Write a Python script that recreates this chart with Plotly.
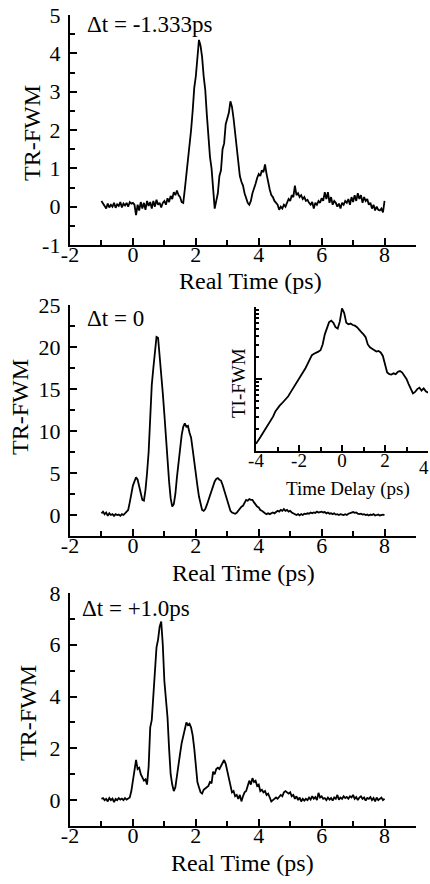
import numpy as np
import plotly.graph_objects as go

W, H = 430, 884
FONT = "Liberation Serif"

# ---- data -------------------------------------------------------------
# real-time samples: -1.0 ... 8.0 ps in 0.05 ps steps
t_real = np.round(np.arange(181) * 0.05 - 1.0, 2)

tr_fwm_neg = [
    0.15, 0.10, 0.02, -0.05, 0.08, -0.02, 0.05, 0.00, 0.10, -0.03, 0.06, 0.02, 0.12, -0.02, 0.08, 0.03, 0.10, 0.00, 0.12, 0.08,
    0.10, 0.05, -0.22, 0.05, -0.10, 0.12, -0.05, 0.10, -0.08, 0.15, 0.02, 0.12, -0.05, 0.15, 0.00, 0.18, 0.05, 0.10, -0.02, 0.10,
    0.15, 0.05, 0.22, 0.12, 0.28, 0.20, 0.38, 0.30, 0.42, 0.30, 0.25, 0.12, 0.10, 0.45, 0.80, 1.25, 1.50, 2.00, 2.50, 3.10,
    3.40, 4.00, 4.35, 4.20, 3.90, 3.40, 3.05, 2.40, 1.80, 1.30, 1.00, 0.50, -0.05, 0.15, 0.35, 0.80, 0.95, 1.50, 1.65, 2.15,
    2.30, 2.45, 2.75, 2.60, 2.30, 1.90, 1.50, 1.15, 0.80, 0.65, 0.55, 0.35, 0.20, 0.10, 0.05, 0.15, 0.35, 0.45, 0.60, 0.75,
    0.85, 0.80, 0.95, 0.90, 1.10, 0.85, 0.60, 0.45, 0.30, 0.25, 0.15, 0.10, 0.05, -0.08, 0.00, -0.05, 0.05, 0.00, 0.10, 0.20,
    0.15, 0.30, 0.25, 0.55, 0.30, 0.35, 0.25, 0.30, 0.20, 0.25, 0.15, 0.18, 0.10, 0.05, 0.12, -0.05, 0.10, 0.05, 0.15, 0.10,
    0.22, 0.15, 0.38, 0.20, 0.38, 0.10, 0.25, 0.05, 0.15, 0.10, 0.00, 0.08, -0.05, 0.10, 0.05, 0.15, 0.10, 0.20, 0.05, 0.25,
    0.12, 0.30, 0.15, 0.35, 0.20, 0.30, 0.10, 0.25, 0.15, 0.20, 0.05, 0.10, -0.05, 0.05, -0.10, 0.00, -0.08, -0.10, -0.05, -0.15,
    0.15,
]

tr_fwm_zero = [
    0.20, 0.40, 0.10, 0.30, -0.10, 0.20, 0.00, 0.10, -0.10, 0.10, 0.00, 0.05, -0.10, 0.10, 0.00, 0.20, 0.30, 0.60, 1.50, 2.60,
    3.50, 4.00, 4.50, 4.20, 3.30, 2.50, 1.80, 1.70, 3.00, 5.00, 7.50, 11.50, 15.50, 17.50, 19.00, 21.20, 21.10, 19.00, 17.50, 14.50,
    12.00, 9.00, 6.00, 4.00, 2.00, 1.00, 1.30, 2.50, 4.50, 6.20, 8.00, 9.50, 10.50, 10.90, 10.50, 10.60, 9.80, 9.20, 7.80, 6.20,
    4.90, 3.50, 2.20, 1.20, 0.60, 0.50, 0.70, 1.20, 1.80, 2.30, 2.80, 3.40, 4.00, 4.30, 4.40, 4.20, 4.10, 3.60, 3.00, 2.30,
    1.60, 1.00, 0.50, 0.30, 0.20, 0.15, 0.25, 0.50, 0.70, 1.00, 1.10, 1.50, 1.80, 1.70, 1.90, 1.80, 1.80, 1.50, 1.20, 1.00,
    0.90, 0.60, 0.50, 0.30, 0.20, 0.10, 0.20, 0.10, 0.20, 0.30, 0.20, 0.40, 0.50, 0.40, 0.60, 0.50, 0.70, 0.50, 0.60, 0.40,
    0.50, 0.30, 0.20, 0.10, 0.00, 0.10, -0.05, 0.10, 0.00, 0.15, 0.10, 0.20, 0.15, 0.30, 0.20, 0.30, 0.25, 0.40, 0.30, 0.35,
    0.40, 0.30, 0.35, 0.20, 0.30, 0.15, 0.20, 0.10, 0.20, 0.05, 0.10, 0.00, 0.10, 0.05, 0.00, 0.10, 0.00, 0.15, 0.20, 0.30,
    0.35, 0.25, 0.30, 0.15, 0.10, 0.15, 0.05, 0.10, 0.00, 0.05, -0.05, 0.05, 0.00, 0.10, -0.05, 0.00, 0.05, -0.05, 0.00, 0.05,
    0.00,
]

tr_fwm_pos = [
    0.05, 0.08, 0.00, 0.05, -0.05, 0.08, 0.00, 0.06, -0.08, 0.05, 0.00, 0.08, 0.02, 0.06, 0.00, 0.08, 0.02, 0.05, 0.10, 0.35,
    0.75, 1.20, 1.55, 1.20, 1.25, 1.00, 0.85, 0.75, 0.80, 0.60, 1.30, 2.80, 3.10, 4.00, 5.30, 5.90, 6.20, 6.70, 6.90, 6.00,
    4.60, 4.00, 3.20, 2.00, 1.00, 0.60, 0.35, 0.50, 1.00, 1.40, 1.80, 2.20, 2.50, 2.70, 3.00, 2.90, 2.95, 2.80, 2.50, 2.00,
    1.20, 0.70, 0.50, 0.30, 0.25, 0.40, 0.45, 0.50, 0.55, 0.70, 0.65, 1.10, 1.00, 1.20, 1.25, 1.20, 1.30, 1.45, 1.55, 1.40,
    1.10, 0.80, 0.50, 0.30, 0.35, 0.15, 0.20, 0.05, 0.20, -0.05, 0.15, 0.30, 0.35, 0.55, 0.75, 0.60, 0.85, 0.70, 0.75, 0.55,
    0.60, 0.35, 0.40, 0.30, 0.35, 0.20, 0.25, 0.10, -0.05, 0.00, 0.05, 0.10, 0.05, 0.15, 0.20, 0.15, 0.30, 0.35, 0.30, 0.25,
    0.30, 0.15, 0.20, 0.05, 0.15, 0.00, 0.10, -0.05, 0.05, -0.02, 0.05, 0.00, 0.10, 0.02, 0.15, 0.05, 0.12, 0.00, 0.28, 0.10,
    0.15, 0.05, 0.08, 0.00, 0.10, 0.02, 0.08, -0.02, 0.10, 0.05, 0.20, 0.02, 0.10, 0.05, 0.15, 0.08, 0.12, 0.05, 0.15, 0.10,
    0.20, 0.05, 0.12, 0.00, 0.10, 0.15, 0.05, 0.10, -0.02, 0.08, 0.05, 0.12, 0.00, 0.08, -0.05, 0.10, 0.00, 0.05, 0.10, 0.00,
    0.05,
]

# time-integrated FWM vs delay: -4.0 ... 4.0 ps in 0.1 ps steps (log scale)
t_delay = np.round(np.arange(81) * 0.1 - 4.0, 1)
ti_fwm = [
    1.26, 1.38, 1.55, 1.74, 1.95, 2.14, 2.40, 2.69, 3.02, 3.55,
    3.98, 4.27, 4.57, 4.90, 5.25, 5.75, 6.46, 7.24, 8.13, 8.91,
    9.77, 11.0, 12.3, 14.1, 16.2, 18.6, 21.4, 22.4, 22.9, 24.0,
    25.1, 30.2, 41.7, 52.5, 61.7, 64.6, 60.3, 52.5, 50.1, 63.1,
    95.5, 83.2, 60.3, 57.5, 58.9, 56.2, 55.0, 52.5, 47.9, 44.7,
    41.7, 38.0, 30.2, 27.5, 26.3, 25.1, 24.0, 24.5, 23.4, 20.9,
    15.8, 12.3, 11.7, 11.5, 12.0, 11.7, 12.6, 12.9, 12.3, 11.2,
    10.0, 8.51, 7.24, 6.31, 6.61, 7.24, 7.59, 6.92, 7.41, 6.76,
    6.46,
]

# tick positions and their printed labels (plain hyphen for negatives)
real_ticks = [-2, 0, 2, 4, 6, 8]
delay_ticks = [-4, -2, 0, 2, 4]
y_ticks_neg = [-1, 0, 1, 2, 3, 4, 5]
y_ticks_zero = [0, 5, 10, 15, 20, 25]
y_ticks_pos = [0, 2, 4, 6, 8]

panel_labels = ["\u0394t = -1.333ps", "\u0394t = 0", "\u0394t = +1.0ps"]
x_title = "Real Time (ps)"
y_title = "TR-FWM"
inset_x_title = "Time Delay (ps)"
inset_y_title = "TI-FWM"


# ---- helpers -----------------------------------------------------------
def px(x):
    return x / W


def py(y):
    return 1 - y / H


def labels(vals):
    return [str(v) for v in vals]


LINE = dict(color="black", width=1.8)
MINOR = dict(ticks="inside", ticklen=5, tickwidth=2, tickcolor="black")
AXIS_COMMON = dict(
    showline=True, linecolor="black", linewidth=2.4,
    ticks="inside", ticklen=7, tickwidth=2, tickcolor="black",
    showgrid=False, zeroline=False, automargin=False,
    tickfont=dict(family=FONT, size=22, color="black"),
)

fig = go.Figure()

main_series = [tr_fwm_neg, tr_fwm_zero, tr_fwm_pos]
for i, ys in enumerate(main_series, start=1):
    fig.add_trace(go.Scatter(
        x=t_real, y=ys, mode="lines", line=LINE,
        xaxis=f"x{i}" if i > 1 else "x", yaxis=f"y{i}" if i > 1 else "y",
        showlegend=False, hoverinfo="skip",
    ))

fig.add_trace(go.Scatter(
    x=t_delay, y=ti_fwm, mode="lines", line=LINE,
    xaxis="x4", yaxis="y4", showlegend=False, hoverinfo="skip",
))

x_dom = [px(70), px(416)]
xaxis_real = dict(
    AXIS_COMMON, range=[-2, 9], domain=x_dom,
    tickvals=real_ticks, ticktext=labels(real_ticks),
    ticklabelstandoff=-12,
    minor=dict(MINOR, dtick=1, tick0=1),
)
yaxis_real = dict(AXIS_COMMON, ticklabelstandoff=3)

layout = dict(
    template="none",
    width=W, height=H,
    margin=dict(l=0, r=0, t=0, b=0, pad=0),
    paper_bgcolor="white", plot_bgcolor="white",
    showlegend=False,
    # top panel
    xaxis=dict(xaxis_real, anchor="y"),
    yaxis=dict(
        yaxis_real, range=[-1, 5],
        tickvals=y_ticks_neg, ticktext=labels(y_ticks_neg),
        domain=[py(245), py(15)], anchor="x",
        minor=dict(MINOR, dtick=0.5),
    ),
    # middle panel
    xaxis2=dict(xaxis_real, anchor="y2"),
    yaxis2=dict(
        yaxis_real, range=[-2.5, 25],
        tickvals=y_ticks_zero, ticktext=labels(y_ticks_zero),
        domain=[py(536), py(305)], anchor="x2",
        minor=dict(MINOR, dtick=2.5),
    ),
    # bottom panel
    xaxis3=dict(xaxis_real, anchor="y3"),
    yaxis3=dict(
        yaxis_real, range=[-1, 8],
        tickvals=y_ticks_pos, ticktext=labels(y_ticks_pos),
        domain=[py(826), py(593)], anchor="x3",
        minor=dict(MINOR, dtick=1),
    ),
    # inset: time-integrated signal on a log scale
    xaxis4=dict(
        AXIS_COMMON, range=[-4, 4], domain=[px(256), px(428)], anchor="y4",
        tickvals=delay_ticks, ticktext=labels(delay_ticks),
        tickfont=dict(family=FONT, size=19, color="black"),
        ticklen=6, ticklabelstandoff=-9,
        minor=dict(MINOR, dtick=1, tick0=1, ticklen=4),
    ),
    yaxis4=dict(
        AXIS_COMMON, type="log", range=[0, 2],
        domain=[py(451), py(307)], anchor="x4",
        tickvals=[1, 10, 100], showticklabels=False, ticklen=6,
        minor=dict(
            MINOR, ticklen=3,
            tickvals=[2, 3, 4, 5, 6, 7, 8, 9, 20, 30, 40, 50, 60, 70, 80, 90],
        ),
    ),
)

annotations = []


def text(s, x, y, size, angle=0, xanchor="center"):
    annotations.append(dict(
        text=s, x=px(x), y=py(y), xref="paper", yref="paper",
        xanchor=xanchor, yanchor="middle", textangle=angle, showarrow=False,
        borderpad=0,
        font=dict(family=FONT, size=size, color="black"),
    ))


# panel labels
text(panel_labels[0], 86, 24, 23, xanchor="left")
text(panel_labels[1], 86, 318, 23, xanchor="left")
text(panel_labels[2], 81, 608, 23, xanchor="left")

# axis titles
text(x_title, 250, 281, 24)
text(x_title, 243, 573, 24)
text(x_title, 242, 863, 24)
text(y_title, 32, 133, 24, angle=-90)
text(y_title, 20, 407, 24, angle=-90)
text(y_title, 28, 713, 24, angle=-90)
text(inset_y_title, 238, 383, 19, angle=-90)
text(inset_x_title, 348, 489, 19)
# last inset tick label sits at the page edge
text(labels(delay_ticks)[-1], 424, 467, 19)

layout["annotations"] = annotations
fig.update_layout(layout)

fig.write_html("out.html")
